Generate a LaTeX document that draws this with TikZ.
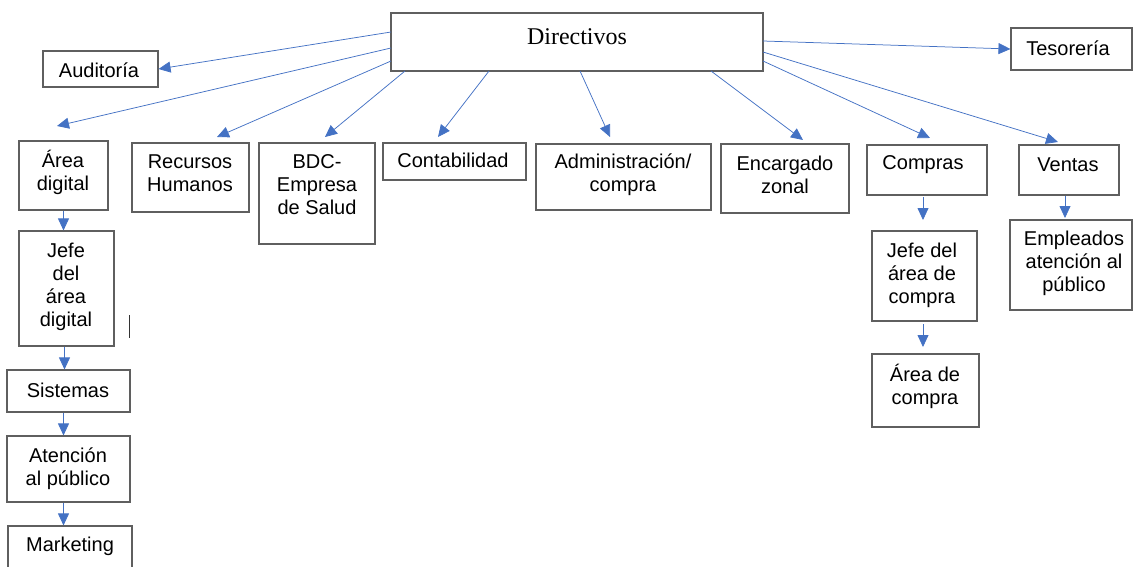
\documentclass[tikz,border=0pt]{standalone}
\usepackage{fontspec}
\setmainfont{Liberation Sans}
\newfontfamily\dirfont{Liberation Serif}
\usetikzlibrary{arrows.meta}
\definecolor{arrowblue}{RGB}{68,114,196}
\definecolor{boxgray}{RGB}{95,95,95}
\tikzset{
  box/.style={draw=boxgray, line width=1.1pt, rectangle, inner sep=0pt},
  txt/.style={inner sep=0pt, align=center, font=\fontsize{20}{23}\selectfont},
  conn/.style={draw=arrowblue, line width=0.75pt, -{Triangle[length=12pt,width=11pt]}},
}
\newcommand{\boxat}[5]{% name, x1, y1, x2, y2
  \node[box, minimum width={(#4)-(#2)}, minimum height={(#5)-(#3)}] (#1) at ({((#2)+(#4))/2},{((#3)+(#5))/2}) {};}
\begin{document}
\begin{tikzpicture}[x=1pt,y=-1pt]
\useasboundingbox (0,0) rectangle (1133,567);
% boxes
\boxat{dir}{391}{13}{763}{71}
\boxat{aud}{43}{51}{158}{87}
\boxat{tes}{1011}{28}{1132}{70}
\boxat{ad}{19}{141}{108}{210}
\boxat{rh}{132}{143}{249}{212}
\boxat{bdc}{259}{143}{375}{244}
\boxat{cont}{383}{143}{526}{180}
\boxat{adm}{536}{144}{711}{210}
\boxat{enc}{721}{144}{849}{213}
\boxat{comp}{867}{145}{987}{195}
\boxat{vent}{1019}{145}{1119}{195}
\boxat{jd}{19}{231}{114}{346}
\boxat{sis}{7}{370}{130}{412}
\boxat{at}{7}{436}{130}{502}
\boxat{mk}{8}{526}{132}{590}
\boxat{jc}{872}{231}{977}{321}
\boxat{ac}{872}{354}{979}{427}
\boxat{emp}{1010}{220}{1132}{310}
% texts
\node[txt, font=\dirfont\fontsize{24}{28}\selectfont] (t-dir) at (577,37) {Directivos};
\node[txt] (t-aud) at (99,70) {Auditoría};
\node[txt] (t-tes) at (1068,48) {Tesorería};
\node[txt] (t-ad) at (63,172) {Área\\digital};
\node[txt] (t-rh) at (190,173) {Recursos\\Humanos};
\node[txt] (t-bdc) at (317,185) {BDC-\\Empresa\\de Salud};
\node[txt] (t-cont) at (453,160) {Contabilidad};
\node[txt] (t-adm) at (623,175) {Administración/\\compra};
\node[txt] (t-enc) at (785,175) {Encargado\\zonal};
\node[txt] (t-comp) at (923,165) {Compras};
\node[txt] (t-vent) at (1068,165) {Ventas};
\node[txt] (t-jd) at (66,287) {Jefe\\del\\área\\digital};
\node[txt] (t-sis) at (68,390) {Sistemas};
\node[txt] (t-at) at (68,469) {Atención\\al público};
\node[txt] (t-mk) at (70,546) {Marketing};
\node[txt] (t-jc) at (922,275) {Jefe del\\área de\\compra};
\node[txt] (t-ac) at (925,386) {Área de\\compra};
\node[txt] (t-emp) at (1074,263) {Empleados\\atención al\\público};
% stray mark
\draw[line width=1pt, black!80] (129,315) -- (129,338);
% start points on Directivos
\coordinate (s-aud) at (391,32);
\coordinate (s-ad) at (391,48);
\coordinate (s-rh) at (391,61);
\coordinate (s-bdc) at (405,71);
\coordinate (s-cont) at (489,71);
\coordinate (s-adm) at (580,71);
\coordinate (s-enc) at (711,71);
\coordinate (s-comp) at (763,61);
\coordinate (s-vent) at (763,52);
\coordinate (s-tes) at (763,41);
% free ends
\coordinate (e-ad) at (57,126);
\coordinate (e-rh) at (217,137);
\coordinate (e-bdc) at (325,137);
\coordinate (e-cont) at (438,137);
\coordinate (e-adm) at (610,137);
\coordinate (e-enc) at (803,140);
\coordinate (e-comp) at (930,138);
\coordinate (e-vent) at (1058,142);
\coordinate (e-jc) at (923,220);
\coordinate (e-ac) at (923,347);
\coordinate (e-emp) at (1065,218);
\coordinate (c-comp) at (923,197);
\coordinate (c-jc) at (923,324);
\coordinate (c-vent) at (1065,196);
% connectors
\draw[conn] (s-aud) -- (aud.east);
\draw[conn] (s-ad) -- (e-ad);
\draw[conn] (s-rh) -- (e-rh);
\draw[conn] (s-bdc) -- (e-bdc);
\draw[conn] (s-cont) -- (e-cont);
\draw[conn] (s-adm) -- (e-adm);
\draw[conn] (s-enc) -- (e-enc);
\draw[conn] (s-comp) -- (e-comp);
\draw[conn] (s-vent) -- (e-vent);
\draw[conn] (s-tes) -- (tes.west);
\draw[conn] (ad.south) -- (ad.south |- jd.north);
\draw[conn] ([xshift=-2pt]jd.south) -- ([xshift=-2pt]jd.south |- sis.north);
\draw[conn] ([xshift=-5pt]sis.south) -- ([xshift=-5pt]sis.south |- at.north);
\draw[conn] ([xshift=-5pt]at.south) -- ([xshift=-5pt]at.south |- mk.north);
\draw[conn] (c-comp) -- (e-jc);
\draw[conn] (c-jc) -- (e-ac);
\draw[conn] (c-vent) -- (e-emp);
\end{tikzpicture}
\end{document}
